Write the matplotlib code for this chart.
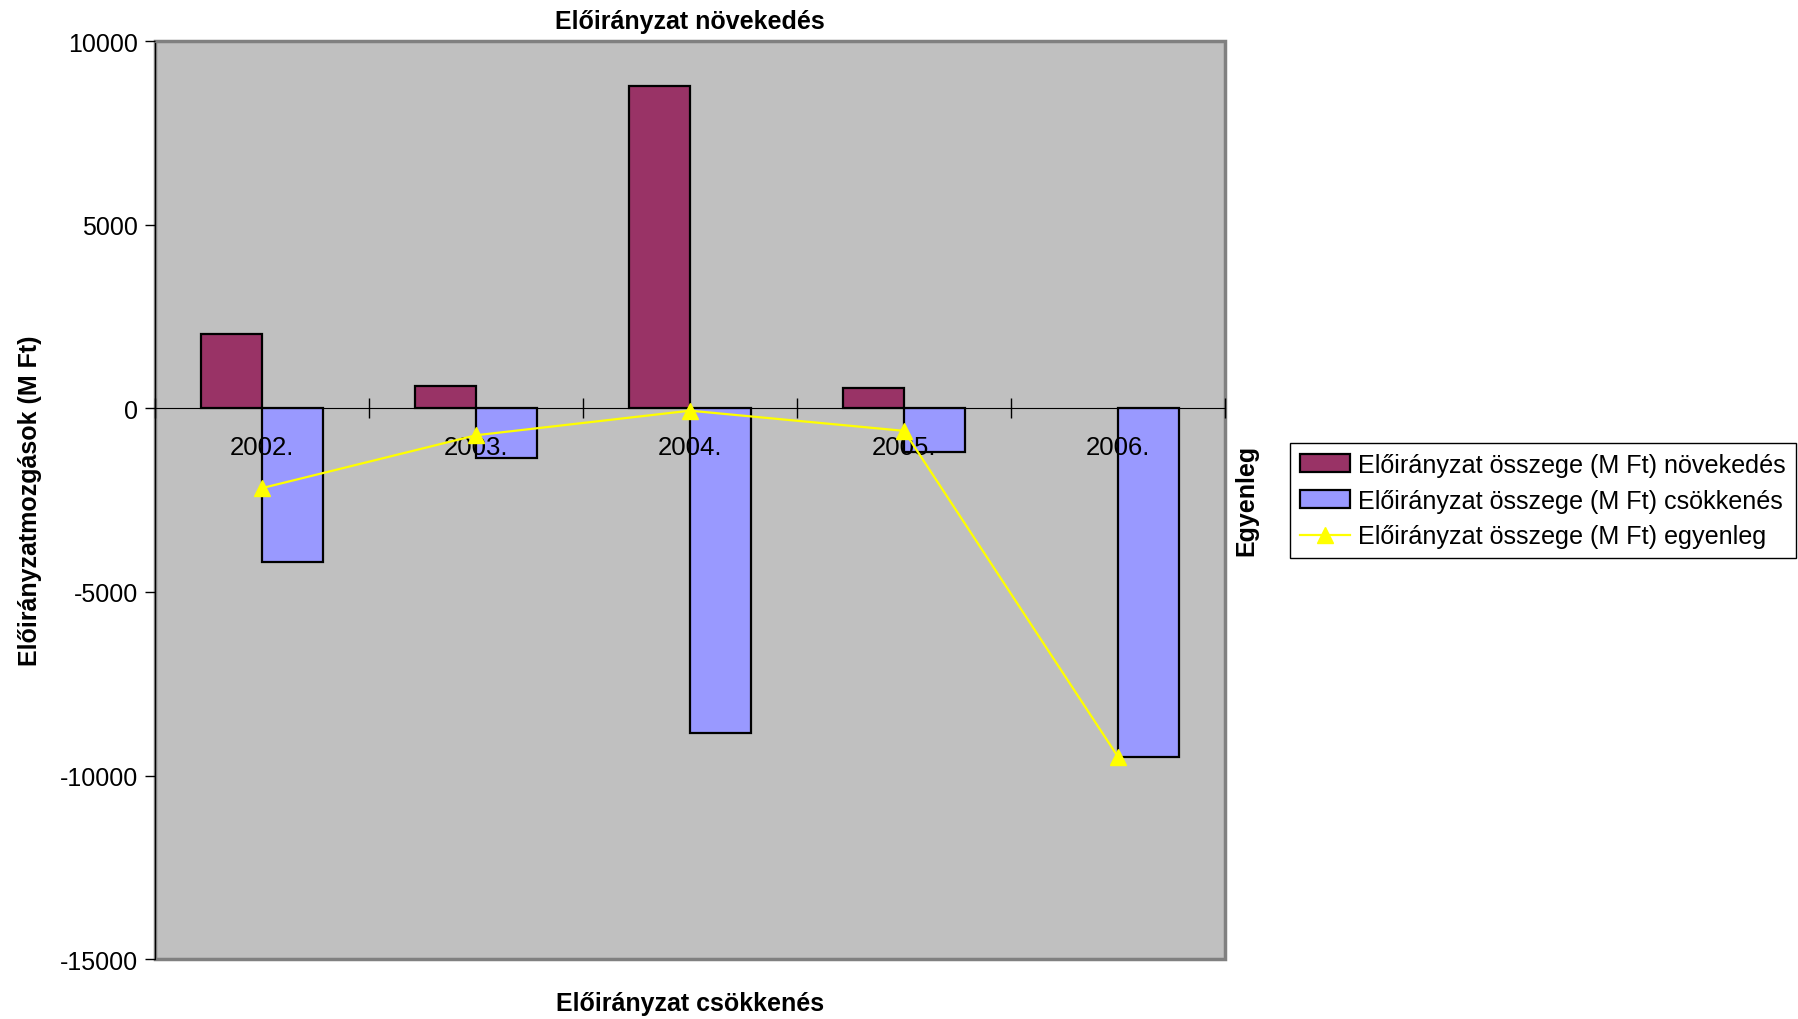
import numpy as np
import matplotlib.pyplot as plt
from matplotlib.patches import Rectangle

plt.rcParams['font.family'] = ['Liberation Sans', 'DejaVu Sans']
plt.rcParams['axes.unicode_minus'] = False

years = ["2002.", "2003.", "2004.", "2005.", "2006."]
novekedes = [2020, 620, 8780, 570, 0]
csokkenes = [-4190, -1350, -8840, -1180, -9490]
egyenleg = [-2170, -730, -60, -610, -9490]

lbl_nov = "Előirányzat összege (M Ft) növekedés"
lbl_csokk = "Előirányzat összege (M Ft) csökkenés"
lbl_egy = "Előirányzat összege (M Ft) egyenleg"

fig = plt.figure(figsize=(17.98, 10.2), dpi=100)
ax = fig.add_axes([0.0862, 0.0588, 0.5951, 0.8996])
ax.set_facecolor("#C0C0C0")
ax.set_axisbelow(False)

x = np.arange(len(years))
w = 1 / 3.5
b1 = ax.bar(x - w / 2, novekedes, w, color="#993366", edgecolor="black",
            linewidth=[0 if v == 0 else 1.6 for v in novekedes], label=lbl_nov, zorder=2)
b2 = ax.bar(x + w / 2, csokkenes, w, color="#9999FF", edgecolor="black",
            linewidth=[0 if v == 0 else 1.6 for v in csokkenes], label=lbl_csokk, zorder=2)
ln, = ax.plot(x, egyenleg, color="#FFFF00", linewidth=1.6, marker="^", markersize=11,
              label=lbl_egy, zorder=4)

ax.set_xlim(-0.5, len(years) - 0.5)
ax.set_ylim(-15000, 10000)
ax.set_yticks(np.arange(-15000, 10001, 5000))
ax.tick_params(axis="y", labelsize=18, direction="out", length=7, width=1, pad=5)

# category axis crosses at zero, with ticks between the categories
ax.spines["bottom"].set_position(("data", 0))
ax.spines["bottom"].set_color("black")
ax.set_xticks(x)
ax.set_xticklabels(years)
ax.set_xticks(np.arange(-0.5, len(years)), minor=True)
ax.tick_params(axis="x", which="major", length=0, labelsize=18.5, pad=19)
ax.tick_params(axis="x", which="minor", direction="inout", length=14, width=1)

ax.spines["top"].set_color("#808080")
ax.spines["right"].set_color("#808080")
ax.spines["top"].set_linewidth(2)
ax.spines["right"].set_linewidth(2)
ax.spines["left"].set_color("black")
ax.add_patch(Rectangle((0, 0), 1, 1, transform=ax.transAxes, fill=False,
                       edgecolor="#808080", linewidth=2.5, zorder=1, clip_on=False))

ax.set_title("Előirányzat növekedés", fontsize=18, fontweight="bold", pad=10)
fig.text(0.3837, 0.0157, "Előirányzat csökkenés", fontsize=18, fontweight="bold",
         ha="center", va="center")
fig.text(0.0165, 0.509, "Előirányzatmozgások (M Ft)", fontsize=18, fontweight="bold",
         rotation=90, ha="center", va="center")
fig.text(0.693, 0.509, "Egyenleg", fontsize=18, fontweight="bold",
         rotation=90, ha="center", va="center")

leg = fig.legend(handles=[b1, b2, ln], loc="center left", bbox_to_anchor=(0.7175, 0.5083),
                 fontsize=18.1, frameon=True, fancybox=False, edgecolor="black", framealpha=1,
                 handlelength=2.0, handletextpad=0.3, borderpad=0.4, labelspacing=0.47,
                 borderaxespad=0)
leg.get_frame().set_linewidth(1)

fig.savefig("out.png", dpi=100)
